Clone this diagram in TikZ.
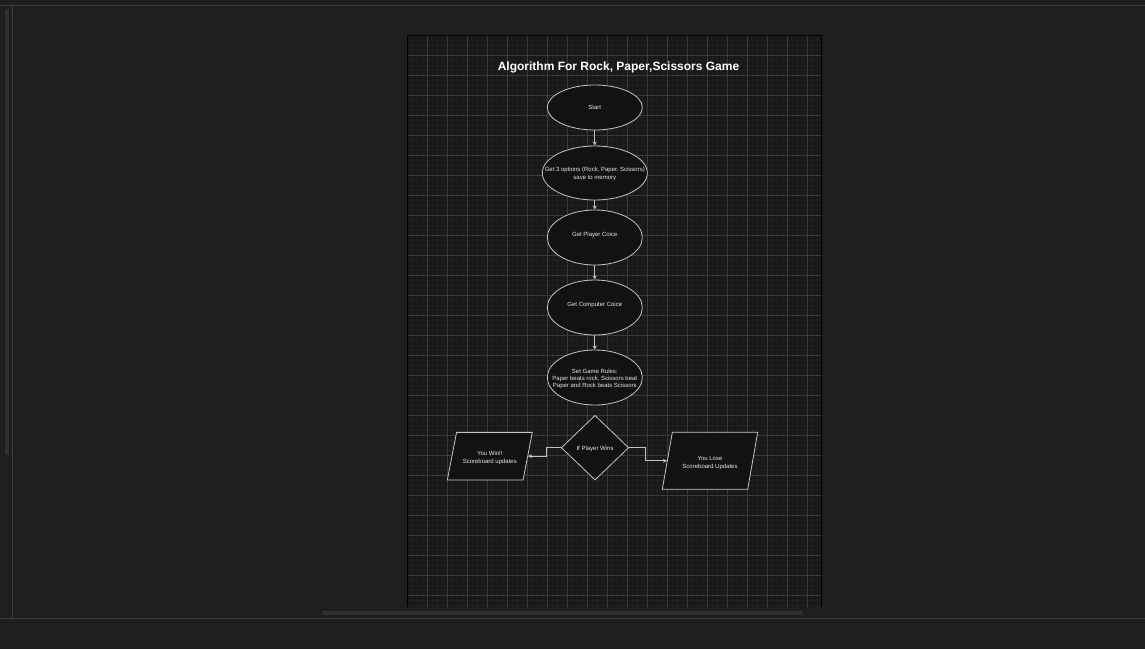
\documentclass[tikz,border=0pt]{standalone}
\usepackage{fontspec}
\setmainfont{Liberation Sans}
\usetikzlibrary{shapes.geometric,arrows.meta}
\definecolor{uibg}{RGB}{29,30,32}
\definecolor{uiline}{RGB}{58,59,61}
\definecolor{uibar}{RGB}{46,47,49}
\definecolor{canvasbg}{RGB}{24,24,24}
\definecolor{minorgrid}{RGB}{31,31,31}
\definecolor{majorgrid}{RGB}{58,58,58}
\definecolor{shapefill}{RGB}{18,18,18}
\definecolor{shapeline}{RGB}{196,196,196}
\definecolor{shapetext}{RGB}{232,232,232}
\begin{document}
\begin{tikzpicture}[x=1pt,y=1pt,yscale=-1,xscale=1,
	shapetxt/.style={text=shapetext,font=\fontsize{6}{7.4}\selectfont,align=center,inner sep=0pt},
	shapebox/.style={draw=shapeline,fill=shapefill,line width=0.8pt,inner sep=0pt},
	oval/.style={shapebox,ellipse,minimum width=95pt,minimum height=55pt},
	iobox/.style={shapebox,trapezium,trapezium stretches body=true,trapezium left angle=79,trapezium right angle=101,text depth=0pt},
	flow/.style={draw=shapeline,line width=1pt,-{Stealth[length=4pt,width=4pt]}}]
	\useasboundingbox (0,0) rectangle (1145,649);

	%Shape: Window
	\fill [uibg] (0,0) rectangle (1145,649);
	\draw [uiline] (0,5) -- (1145,5);
	\draw [uiline] (0,618) -- (1145,618);
	\draw [uiline] (12.3,5) -- (12.3,618);
	\fill [uibar] (5,9) rectangle (9,455);
	\fill [uibar] (322,610.7) rectangle (802,614.8);

	%Shape: Page with grid
	\fill [canvasbg] (407.3,35.3) rectangle (821.7,607);
	\begin{scope}[shift={(407.3,35.3)}]
		\draw [minorgrid,line width=0.5pt,step=5] (0,0) grid (414.4,571.7);
		\draw [majorgrid,line width=0.6pt,step=20] (0,0) grid (414.4,571.7);
	\end{scope}
	\draw [black,line width=0.8pt] (407.3,35.3) -- (407.3,607) (821.7,35.3) -- (821.7,607) (407.3,35.3) -- (821.7,35.3);

	% Text Node
	\node (title) at (618.5,67.3) [text=white,font=\fontsize{12}{14}\bfseries] {Algorithm For Rock, Paper,Scissors Game};

	%Shape: Ellipse
	\node (start) at (594.8,107.5) [oval,minimum height=45pt,label={[shapetxt]center:Start}] {};
	%Shape: Ellipse
	\node (opts) at (594.8,173) [oval,minimum width=105pt,minimum height=54pt,label={[shapetxt,yshift=-1pt]center:Get 3 options (Rock, Paper, Scissors)\\save to memory}] {};
	%Shape: Ellipse
	\node (player) at (594.8,237.5) [oval,label={[shapetxt,yshift=3pt]center:Get Player Coice}] {};
	%Shape: Ellipse
	\node (comp) at (594.8,307.5) [oval,label={[shapetxt,yshift=3pt]center:Get Computer Coice}] {};
	%Shape: Ellipse
	\node (rules) at (594.8,377.5) [oval,label={[shapetxt,yshift=-1.5pt]center:Set Game Rules:\\Paper beats rock, Scissors beat\\Paper and Rock beats Scissors}] {};
	%Shape: Diamond
	\node (wins) at (595,447.7) [shapebox,diamond,minimum width=67.4pt,minimum height=64.7pt,label={[shapetxt,yshift=-0.8pt]center:If Player Wins}] {};
	%Shape: Parallelogram
	\node (win) at (489.8,456.2) [iobox,text height=47.7pt,minimum width=85pt,label={[shapetxt,yshift=-1.5pt,font=\fontsize{6}{8}\selectfont]center:You Win!!\\Scoreboard updates}] {};
	%Shape: Parallelogram
	\node (lose) at (710,460.8) [iobox,trapezium left angle=80,trapezium right angle=100,text height=57pt,minimum width=95.4pt,label={[shapetxt,yshift=-2pt,font=\fontsize{6}{8}\selectfont]center:You Lose\\Scoreboard Updates}] {};

	%Straight Lines
	\draw [flow] (start) -- (opts);
	\draw [flow] (opts) -- (player);
	\draw [flow] (player) -- (comp);
	\draw [flow] (comp) -- (rules);
	%Elbow Lines
	\draw [flow] (wins.west) -- ++(-14.6,0) |- (win);
	\draw [flow] (wins.east) -- ++(16.6,0) |- (lose);
\end{tikzpicture}
\end{document}
